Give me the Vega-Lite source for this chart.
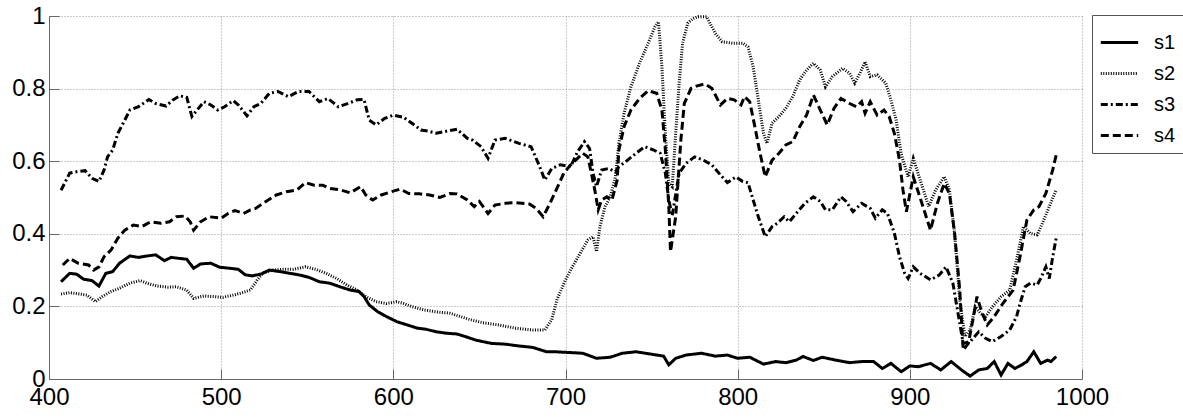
{
"$schema": "https://vega.github.io/schema/vega-lite/v6.json",
"width": 1033, "height": 363,
"autosize": {"type": "none"},
"padding": {"left": 49, "top": 16, "right": 101, "bottom": 39},
"background": "white",
"config": {"view": {"stroke": null}, "font": "Liberation Sans"},
"data": {"values": [
{"x":407,"y":0.268,"s":"s1"},{"x":412,"y":0.291,"s":"s1"},{"x":416,"y":0.289,"s":"s1"},{"x":420,"y":0.275,"s":"s1"},{"x":425,"y":0.271,"s":"s1"},{"x":429,"y":0.256,"s":"s1"},{"x":433,"y":0.291,"s":"s1"},{"x":437,"y":0.296,"s":"s1"},{"x":441,"y":0.319,"s":"s1"},{"x":447,"y":0.339,"s":"s1"},{"x":452,"y":0.335,"s":"s1"},{"x":457,"y":0.339,"s":"s1"},{"x":462,"y":0.342,"s":"s1"},{"x":467,"y":0.326,"s":"s1"},{"x":471,"y":0.335,"s":"s1"},{"x":476,"y":0.332,"s":"s1"},{"x":480,"y":0.330,"s":"s1"},{"x":484,"y":0.305,"s":"s1"},{"x":488,"y":0.317,"s":"s1"},{"x":494,"y":0.319,"s":"s1"},{"x":499,"y":0.308,"s":"s1"},{"x":505,"y":0.305,"s":"s1"},{"x":510,"y":0.302,"s":"s1"},{"x":514,"y":0.287,"s":"s1"},{"x":518,"y":0.284,"s":"s1"},{"x":523,"y":0.289,"s":"s1"},{"x":528,"y":0.300,"s":"s1"},{"x":534,"y":0.296,"s":"s1"},{"x":540,"y":0.291,"s":"s1"},{"x":545,"y":0.287,"s":"s1"},{"x":551,"y":0.280,"s":"s1"},{"x":557,"y":0.268,"s":"s1"},{"x":563,"y":0.264,"s":"s1"},{"x":569,"y":0.254,"s":"s1"},{"x":575,"y":0.245,"s":"s1"},{"x":580,"y":0.241,"s":"s1"},{"x":583,"y":0.227,"s":"s1"},{"x":586,"y":0.204,"s":"s1"},{"x":591,"y":0.185,"s":"s1"},{"x":596,"y":0.172,"s":"s1"},{"x":602,"y":0.158,"s":"s1"},{"x":608,"y":0.149,"s":"s1"},{"x":614,"y":0.140,"s":"s1"},{"x":619,"y":0.137,"s":"s1"},{"x":625,"y":0.130,"s":"s1"},{"x":631,"y":0.126,"s":"s1"},{"x":637,"y":0.124,"s":"s1"},{"x":643,"y":0.115,"s":"s1"},{"x":648,"y":0.107,"s":"s1"},{"x":652,"y":0.103,"s":"s1"},{"x":657,"y":0.098,"s":"s1"},{"x":665,"y":0.096,"s":"s1"},{"x":673,"y":0.091,"s":"s1"},{"x":681,"y":0.087,"s":"s1"},{"x":689,"y":0.075,"s":"s1"},{"x":694,"y":0.075,"s":"s1"},{"x":702,"y":0.073,"s":"s1"},{"x":710,"y":0.071,"s":"s1"},{"x":718,"y":0.057,"s":"s1"},{"x":726,"y":0.060,"s":"s1"},{"x":733,"y":0.071,"s":"s1"},{"x":741,"y":0.075,"s":"s1"},{"x":749,"y":0.069,"s":"s1"},{"x":757,"y":0.063,"s":"s1"},{"x":760,"y":0.039,"s":"s1"},{"x":764,"y":0.057,"s":"s1"},{"x":770,"y":0.066,"s":"s1"},{"x":779,"y":0.071,"s":"s1"},{"x":787,"y":0.063,"s":"s1"},{"x":794,"y":0.066,"s":"s1"},{"x":800,"y":0.057,"s":"s1"},{"x":807,"y":0.060,"s":"s1"},{"x":815,"y":0.041,"s":"s1"},{"x":822,"y":0.048,"s":"s1"},{"x":828,"y":0.045,"s":"s1"},{"x":834,"y":0.052,"s":"s1"},{"x":838,"y":0.062,"s":"s1"},{"x":844,"y":0.051,"s":"s1"},{"x":849,"y":0.060,"s":"s1"},{"x":857,"y":0.052,"s":"s1"},{"x":865,"y":0.045,"s":"s1"},{"x":872,"y":0.048,"s":"s1"},{"x":879,"y":0.048,"s":"s1"},{"x":884,"y":0.029,"s":"s1"},{"x":889,"y":0.043,"s":"s1"},{"x":895,"y":0.020,"s":"s1"},{"x":900,"y":0.036,"s":"s1"},{"x":905,"y":0.034,"s":"s1"},{"x":912,"y":0.043,"s":"s1"},{"x":918,"y":0.025,"s":"s1"},{"x":924,"y":0.048,"s":"s1"},{"x":930,"y":0.025,"s":"s1"},{"x":935,"y":0.008,"s":"s1"},{"x":940,"y":0.025,"s":"s1"},{"x":945,"y":0.029,"s":"s1"},{"x":949,"y":0.048,"s":"s1"},{"x":953,"y":0.011,"s":"s1"},{"x":957,"y":0.043,"s":"s1"},{"x":961,"y":0.029,"s":"s1"},{"x":965,"y":0.039,"s":"s1"},{"x":968,"y":0.048,"s":"s1"},{"x":972,"y":0.075,"s":"s1"},{"x":976,"y":0.043,"s":"s1"},{"x":980,"y":0.052,"s":"s1"},{"x":982,"y":0.048,"s":"s1"},{"x":985,"y":0.062,"s":"s1"},
{"x":407,"y":0.234,"s":"s2"},{"x":412,"y":0.238,"s":"s2"},{"x":418,"y":0.234,"s":"s2"},{"x":422,"y":0.231,"s":"s2"},{"x":427,"y":0.213,"s":"s2"},{"x":431,"y":0.227,"s":"s2"},{"x":436,"y":0.241,"s":"s2"},{"x":441,"y":0.250,"s":"s2"},{"x":447,"y":0.264,"s":"s2"},{"x":453,"y":0.271,"s":"s2"},{"x":458,"y":0.262,"s":"s2"},{"x":463,"y":0.256,"s":"s2"},{"x":469,"y":0.253,"s":"s2"},{"x":474,"y":0.254,"s":"s2"},{"x":480,"y":0.245,"s":"s2"},{"x":484,"y":0.222,"s":"s2"},{"x":490,"y":0.229,"s":"s2"},{"x":496,"y":0.227,"s":"s2"},{"x":501,"y":0.225,"s":"s2"},{"x":507,"y":0.231,"s":"s2"},{"x":511,"y":0.236,"s":"s2"},{"x":517,"y":0.245,"s":"s2"},{"x":521,"y":0.273,"s":"s2"},{"x":524,"y":0.291,"s":"s2"},{"x":530,"y":0.300,"s":"s2"},{"x":536,"y":0.302,"s":"s2"},{"x":542,"y":0.302,"s":"s2"},{"x":549,"y":0.309,"s":"s2"},{"x":555,"y":0.302,"s":"s2"},{"x":561,"y":0.291,"s":"s2"},{"x":567,"y":0.277,"s":"s2"},{"x":573,"y":0.259,"s":"s2"},{"x":579,"y":0.245,"s":"s2"},{"x":584,"y":0.227,"s":"s2"},{"x":590,"y":0.213,"s":"s2"},{"x":596,"y":0.208,"s":"s2"},{"x":602,"y":0.213,"s":"s2"},{"x":606,"y":0.208,"s":"s2"},{"x":611,"y":0.199,"s":"s2"},{"x":618,"y":0.190,"s":"s2"},{"x":625,"y":0.185,"s":"s2"},{"x":633,"y":0.181,"s":"s2"},{"x":639,"y":0.172,"s":"s2"},{"x":645,"y":0.163,"s":"s2"},{"x":652,"y":0.155,"s":"s2"},{"x":661,"y":0.149,"s":"s2"},{"x":671,"y":0.140,"s":"s2"},{"x":681,"y":0.135,"s":"s2"},{"x":688,"y":0.135,"s":"s2"},{"x":692,"y":0.163,"s":"s2"},{"x":695,"y":0.218,"s":"s2"},{"x":700,"y":0.273,"s":"s2"},{"x":704,"y":0.309,"s":"s2"},{"x":708,"y":0.342,"s":"s2"},{"x":713,"y":0.383,"s":"s2"},{"x":716,"y":0.392,"s":"s2"},{"x":718,"y":0.351,"s":"s2"},{"x":720,"y":0.420,"s":"s2"},{"x":723,"y":0.475,"s":"s2"},{"x":726,"y":0.502,"s":"s2"},{"x":729,"y":0.557,"s":"s2"},{"x":731,"y":0.649,"s":"s2"},{"x":734,"y":0.732,"s":"s2"},{"x":738,"y":0.805,"s":"s2"},{"x":743,"y":0.870,"s":"s2"},{"x":748,"y":0.925,"s":"s2"},{"x":752,"y":0.971,"s":"s2"},{"x":754,"y":0.984,"s":"s2"},{"x":756,"y":0.860,"s":"s2"},{"x":758,"y":0.676,"s":"s2"},{"x":760,"y":0.539,"s":"s2"},{"x":762,"y":0.530,"s":"s2"},{"x":764,"y":0.676,"s":"s2"},{"x":766,"y":0.814,"s":"s2"},{"x":768,"y":0.925,"s":"s2"},{"x":771,"y":0.980,"s":"s2"},{"x":774,"y":0.993,"s":"s2"},{"x":777,"y":0.998,"s":"s2"},{"x":782,"y":0.998,"s":"s2"},{"x":787,"y":0.952,"s":"s2"},{"x":791,"y":0.929,"s":"s2"},{"x":797,"y":0.925,"s":"s2"},{"x":803,"y":0.925,"s":"s2"},{"x":806,"y":0.915,"s":"s2"},{"x":809,"y":0.860,"s":"s2"},{"x":812,"y":0.769,"s":"s2"},{"x":815,"y":0.677,"s":"s2"},{"x":817,"y":0.649,"s":"s2"},{"x":820,"y":0.705,"s":"s2"},{"x":824,"y":0.723,"s":"s2"},{"x":828,"y":0.746,"s":"s2"},{"x":832,"y":0.778,"s":"s2"},{"x":836,"y":0.824,"s":"s2"},{"x":840,"y":0.851,"s":"s2"},{"x":844,"y":0.870,"s":"s2"},{"x":848,"y":0.851,"s":"s2"},{"x":851,"y":0.805,"s":"s2"},{"x":855,"y":0.833,"s":"s2"},{"x":861,"y":0.856,"s":"s2"},{"x":865,"y":0.842,"s":"s2"},{"x":868,"y":0.815,"s":"s2"},{"x":871,"y":0.842,"s":"s2"},{"x":874,"y":0.874,"s":"s2"},{"x":877,"y":0.833,"s":"s2"},{"x":881,"y":0.838,"s":"s2"},{"x":886,"y":0.815,"s":"s2"},{"x":889,"y":0.769,"s":"s2"},{"x":892,"y":0.714,"s":"s2"},{"x":895,"y":0.620,"s":"s2"},{"x":899,"y":0.557,"s":"s2"},{"x":902,"y":0.608,"s":"s2"},{"x":906,"y":0.548,"s":"s2"},{"x":911,"y":0.475,"s":"s2"},{"x":915,"y":0.521,"s":"s2"},{"x":920,"y":0.557,"s":"s2"},{"x":923,"y":0.521,"s":"s2"},{"x":926,"y":0.401,"s":"s2"},{"x":929,"y":0.218,"s":"s2"},{"x":932,"y":0.117,"s":"s2"},{"x":935,"y":0.135,"s":"s2"},{"x":938,"y":0.199,"s":"s2"},{"x":941,"y":0.181,"s":"s2"},{"x":944,"y":0.172,"s":"s2"},{"x":948,"y":0.199,"s":"s2"},{"x":953,"y":0.227,"s":"s2"},{"x":958,"y":0.245,"s":"s2"},{"x":962,"y":0.328,"s":"s2"},{"x":966,"y":0.420,"s":"s2"},{"x":970,"y":0.401,"s":"s2"},{"x":974,"y":0.397,"s":"s2"},{"x":977,"y":0.429,"s":"s2"},{"x":981,"y":0.475,"s":"s2"},{"x":985,"y":0.521,"s":"s2"},
{"x":407,"y":0.520,"s":"s3"},{"x":412,"y":0.567,"s":"s3"},{"x":416,"y":0.571,"s":"s3"},{"x":421,"y":0.574,"s":"s3"},{"x":425,"y":0.553,"s":"s3"},{"x":429,"y":0.544,"s":"s3"},{"x":432,"y":0.576,"s":"s3"},{"x":434,"y":0.612,"s":"s3"},{"x":437,"y":0.631,"s":"s3"},{"x":440,"y":0.677,"s":"s3"},{"x":444,"y":0.713,"s":"s3"},{"x":447,"y":0.741,"s":"s3"},{"x":452,"y":0.750,"s":"s3"},{"x":458,"y":0.770,"s":"s3"},{"x":462,"y":0.759,"s":"s3"},{"x":468,"y":0.752,"s":"s3"},{"x":472,"y":0.769,"s":"s3"},{"x":476,"y":0.780,"s":"s3"},{"x":480,"y":0.776,"s":"s3"},{"x":483,"y":0.723,"s":"s3"},{"x":486,"y":0.741,"s":"s3"},{"x":490,"y":0.764,"s":"s3"},{"x":494,"y":0.755,"s":"s3"},{"x":498,"y":0.741,"s":"s3"},{"x":502,"y":0.750,"s":"s3"},{"x":507,"y":0.767,"s":"s3"},{"x":510,"y":0.755,"s":"s3"},{"x":515,"y":0.725,"s":"s3"},{"x":519,"y":0.750,"s":"s3"},{"x":523,"y":0.759,"s":"s3"},{"x":528,"y":0.787,"s":"s3"},{"x":533,"y":0.792,"s":"s3"},{"x":539,"y":0.778,"s":"s3"},{"x":545,"y":0.792,"s":"s3"},{"x":551,"y":0.792,"s":"s3"},{"x":557,"y":0.764,"s":"s3"},{"x":562,"y":0.773,"s":"s3"},{"x":568,"y":0.750,"s":"s3"},{"x":573,"y":0.758,"s":"s3"},{"x":579,"y":0.769,"s":"s3"},{"x":583,"y":0.770,"s":"s3"},{"x":586,"y":0.713,"s":"s3"},{"x":590,"y":0.700,"s":"s3"},{"x":595,"y":0.718,"s":"s3"},{"x":600,"y":0.727,"s":"s3"},{"x":606,"y":0.721,"s":"s3"},{"x":611,"y":0.704,"s":"s3"},{"x":616,"y":0.686,"s":"s3"},{"x":619,"y":0.684,"s":"s3"},{"x":625,"y":0.677,"s":"s3"},{"x":629,"y":0.681,"s":"s3"},{"x":637,"y":0.688,"s":"s3"},{"x":643,"y":0.663,"s":"s3"},{"x":646,"y":0.658,"s":"s3"},{"x":651,"y":0.640,"s":"s3"},{"x":655,"y":0.608,"s":"s3"},{"x":659,"y":0.658,"s":"s3"},{"x":665,"y":0.663,"s":"s3"},{"x":673,"y":0.649,"s":"s3"},{"x":680,"y":0.640,"s":"s3"},{"x":685,"y":0.585,"s":"s3"},{"x":688,"y":0.548,"s":"s3"},{"x":692,"y":0.580,"s":"s3"},{"x":697,"y":0.590,"s":"s3"},{"x":703,"y":0.585,"s":"s3"},{"x":707,"y":0.626,"s":"s3"},{"x":711,"y":0.654,"s":"s3"},{"x":714,"y":0.635,"s":"s3"},{"x":716,"y":0.567,"s":"s3"},{"x":718,"y":0.530,"s":"s3"},{"x":721,"y":0.576,"s":"s3"},{"x":725,"y":0.580,"s":"s3"},{"x":729,"y":0.571,"s":"s3"},{"x":731,"y":0.585,"s":"s3"},{"x":735,"y":0.599,"s":"s3"},{"x":741,"y":0.622,"s":"s3"},{"x":746,"y":0.640,"s":"s3"},{"x":751,"y":0.631,"s":"s3"},{"x":755,"y":0.622,"s":"s3"},{"x":758,"y":0.567,"s":"s3"},{"x":760,"y":0.493,"s":"s3"},{"x":762,"y":0.450,"s":"s3"},{"x":766,"y":0.567,"s":"s3"},{"x":770,"y":0.594,"s":"s3"},{"x":775,"y":0.612,"s":"s3"},{"x":780,"y":0.603,"s":"s3"},{"x":785,"y":0.590,"s":"s3"},{"x":790,"y":0.562,"s":"s3"},{"x":794,"y":0.541,"s":"s3"},{"x":799,"y":0.557,"s":"s3"},{"x":803,"y":0.544,"s":"s3"},{"x":806,"y":0.541,"s":"s3"},{"x":809,"y":0.493,"s":"s3"},{"x":812,"y":0.447,"s":"s3"},{"x":816,"y":0.392,"s":"s3"},{"x":820,"y":0.420,"s":"s3"},{"x":823,"y":0.429,"s":"s3"},{"x":827,"y":0.447,"s":"s3"},{"x":830,"y":0.433,"s":"s3"},{"x":834,"y":0.456,"s":"s3"},{"x":839,"y":0.484,"s":"s3"},{"x":844,"y":0.502,"s":"s3"},{"x":848,"y":0.489,"s":"s3"},{"x":851,"y":0.466,"s":"s3"},{"x":855,"y":0.466,"s":"s3"},{"x":860,"y":0.502,"s":"s3"},{"x":863,"y":0.489,"s":"s3"},{"x":867,"y":0.461,"s":"s3"},{"x":872,"y":0.484,"s":"s3"},{"x":877,"y":0.470,"s":"s3"},{"x":880,"y":0.443,"s":"s3"},{"x":884,"y":0.466,"s":"s3"},{"x":887,"y":0.456,"s":"s3"},{"x":891,"y":0.402,"s":"s3"},{"x":894,"y":0.337,"s":"s3"},{"x":897,"y":0.291,"s":"s3"},{"x":899,"y":0.277,"s":"s3"},{"x":902,"y":0.309,"s":"s3"},{"x":906,"y":0.291,"s":"s3"},{"x":912,"y":0.273,"s":"s3"},{"x":917,"y":0.286,"s":"s3"},{"x":921,"y":0.309,"s":"s3"},{"x":925,"y":0.264,"s":"s3"},{"x":928,"y":0.181,"s":"s3"},{"x":931,"y":0.098,"s":"s3"},{"x":935,"y":0.103,"s":"s3"},{"x":940,"y":0.130,"s":"s3"},{"x":944,"y":0.112,"s":"s3"},{"x":948,"y":0.103,"s":"s3"},{"x":953,"y":0.117,"s":"s3"},{"x":958,"y":0.135,"s":"s3"},{"x":962,"y":0.172,"s":"s3"},{"x":964,"y":0.208,"s":"s3"},{"x":967,"y":0.254,"s":"s3"},{"x":970,"y":0.264,"s":"s3"},{"x":974,"y":0.259,"s":"s3"},{"x":976,"y":0.277,"s":"s3"},{"x":979,"y":0.309,"s":"s3"},{"x":981,"y":0.277,"s":"s3"},{"x":983,"y":0.337,"s":"s3"},{"x":985,"y":0.388,"s":"s3"},
{"x":408,"y":0.314,"s":"s4"},{"x":412,"y":0.332,"s":"s4"},{"x":417,"y":0.319,"s":"s4"},{"x":423,"y":0.314,"s":"s4"},{"x":426,"y":0.300,"s":"s4"},{"x":429,"y":0.309,"s":"s4"},{"x":432,"y":0.337,"s":"s4"},{"x":436,"y":0.355,"s":"s4"},{"x":440,"y":0.388,"s":"s4"},{"x":444,"y":0.410,"s":"s4"},{"x":449,"y":0.424,"s":"s4"},{"x":454,"y":0.420,"s":"s4"},{"x":459,"y":0.433,"s":"s4"},{"x":465,"y":0.429,"s":"s4"},{"x":470,"y":0.433,"s":"s4"},{"x":474,"y":0.447,"s":"s4"},{"x":479,"y":0.449,"s":"s4"},{"x":482,"y":0.433,"s":"s4"},{"x":484,"y":0.410,"s":"s4"},{"x":488,"y":0.433,"s":"s4"},{"x":493,"y":0.447,"s":"s4"},{"x":500,"y":0.443,"s":"s4"},{"x":504,"y":0.456,"s":"s4"},{"x":508,"y":0.464,"s":"s4"},{"x":513,"y":0.456,"s":"s4"},{"x":517,"y":0.466,"s":"s4"},{"x":520,"y":0.470,"s":"s4"},{"x":526,"y":0.489,"s":"s4"},{"x":532,"y":0.507,"s":"s4"},{"x":538,"y":0.516,"s":"s4"},{"x":544,"y":0.521,"s":"s4"},{"x":549,"y":0.541,"s":"s4"},{"x":554,"y":0.534,"s":"s4"},{"x":559,"y":0.534,"s":"s4"},{"x":563,"y":0.525,"s":"s4"},{"x":569,"y":0.521,"s":"s4"},{"x":575,"y":0.513,"s":"s4"},{"x":581,"y":0.530,"s":"s4"},{"x":584,"y":0.507,"s":"s4"},{"x":588,"y":0.493,"s":"s4"},{"x":593,"y":0.507,"s":"s4"},{"x":599,"y":0.516,"s":"s4"},{"x":604,"y":0.523,"s":"s4"},{"x":609,"y":0.511,"s":"s4"},{"x":615,"y":0.510,"s":"s4"},{"x":621,"y":0.507,"s":"s4"},{"x":627,"y":0.500,"s":"s4"},{"x":633,"y":0.511,"s":"s4"},{"x":637,"y":0.510,"s":"s4"},{"x":643,"y":0.493,"s":"s4"},{"x":647,"y":0.475,"s":"s4"},{"x":650,"y":0.489,"s":"s4"},{"x":655,"y":0.456,"s":"s4"},{"x":659,"y":0.479,"s":"s4"},{"x":665,"y":0.484,"s":"s4"},{"x":671,"y":0.486,"s":"s4"},{"x":679,"y":0.482,"s":"s4"},{"x":683,"y":0.470,"s":"s4"},{"x":687,"y":0.447,"s":"s4"},{"x":691,"y":0.484,"s":"s4"},{"x":695,"y":0.525,"s":"s4"},{"x":699,"y":0.567,"s":"s4"},{"x":703,"y":0.590,"s":"s4"},{"x":707,"y":0.608,"s":"s4"},{"x":710,"y":0.622,"s":"s4"},{"x":713,"y":0.612,"s":"s4"},{"x":715,"y":0.567,"s":"s4"},{"x":717,"y":0.521,"s":"s4"},{"x":719,"y":0.466,"s":"s4"},{"x":721,"y":0.493,"s":"s4"},{"x":724,"y":0.502,"s":"s4"},{"x":727,"y":0.493,"s":"s4"},{"x":730,"y":0.548,"s":"s4"},{"x":731,"y":0.631,"s":"s4"},{"x":734,"y":0.695,"s":"s4"},{"x":738,"y":0.741,"s":"s4"},{"x":743,"y":0.773,"s":"s4"},{"x":748,"y":0.794,"s":"s4"},{"x":753,"y":0.787,"s":"s4"},{"x":756,"y":0.741,"s":"s4"},{"x":758,"y":0.631,"s":"s4"},{"x":760,"y":0.475,"s":"s4"},{"x":761,"y":0.351,"s":"s4"},{"x":764,"y":0.447,"s":"s4"},{"x":767,"y":0.658,"s":"s4"},{"x":769,"y":0.759,"s":"s4"},{"x":773,"y":0.801,"s":"s4"},{"x":776,"y":0.807,"s":"s4"},{"x":781,"y":0.813,"s":"s4"},{"x":785,"y":0.801,"s":"s4"},{"x":790,"y":0.755,"s":"s4"},{"x":794,"y":0.773,"s":"s4"},{"x":798,"y":0.769,"s":"s4"},{"x":802,"y":0.755,"s":"s4"},{"x":804,"y":0.778,"s":"s4"},{"x":807,"y":0.764,"s":"s4"},{"x":810,"y":0.695,"s":"s4"},{"x":813,"y":0.622,"s":"s4"},{"x":816,"y":0.557,"s":"s4"},{"x":820,"y":0.603,"s":"s4"},{"x":824,"y":0.622,"s":"s4"},{"x":828,"y":0.645,"s":"s4"},{"x":832,"y":0.654,"s":"s4"},{"x":836,"y":0.695,"s":"s4"},{"x":840,"y":0.727,"s":"s4"},{"x":844,"y":0.782,"s":"s4"},{"x":848,"y":0.741,"s":"s4"},{"x":852,"y":0.700,"s":"s4"},{"x":856,"y":0.746,"s":"s4"},{"x":860,"y":0.773,"s":"s4"},{"x":865,"y":0.759,"s":"s4"},{"x":869,"y":0.750,"s":"s4"},{"x":872,"y":0.764,"s":"s4"},{"x":874,"y":0.732,"s":"s4"},{"x":877,"y":0.764,"s":"s4"},{"x":881,"y":0.727,"s":"s4"},{"x":885,"y":0.741,"s":"s4"},{"x":888,"y":0.723,"s":"s4"},{"x":891,"y":0.677,"s":"s4"},{"x":894,"y":0.603,"s":"s4"},{"x":896,"y":0.521,"s":"s4"},{"x":898,"y":0.461,"s":"s4"},{"x":902,"y":0.557,"s":"s4"},{"x":907,"y":0.484,"s":"s4"},{"x":912,"y":0.410,"s":"s4"},{"x":916,"y":0.484,"s":"s4"},{"x":920,"y":0.539,"s":"s4"},{"x":923,"y":0.511,"s":"s4"},{"x":926,"y":0.401,"s":"s4"},{"x":929,"y":0.245,"s":"s4"},{"x":931,"y":0.080,"s":"s4"},{"x":934,"y":0.098,"s":"s4"},{"x":937,"y":0.172,"s":"s4"},{"x":939,"y":0.227,"s":"s4"},{"x":942,"y":0.181,"s":"s4"},{"x":945,"y":0.149,"s":"s4"},{"x":949,"y":0.172,"s":"s4"},{"x":954,"y":0.208,"s":"s4"},{"x":960,"y":0.245,"s":"s4"},{"x":964,"y":0.337,"s":"s4"},{"x":968,"y":0.438,"s":"s4"},{"x":972,"y":0.466,"s":"s4"},{"x":975,"y":0.475,"s":"s4"},{"x":979,"y":0.511,"s":"s4"},{"x":983,"y":0.576,"s":"s4"},{"x":985,"y":0.617,"s":"s4"}
]},
"mark": {"type": "line", "color": "black", "strokeWidth": 3},
"encoding": {
  "x": {"field": "x", "type": "quantitative",
    "scale": {"domain": [400, 1000], "nice": false, "zero": false},
    "axis": {"values": [400, 500, 600, 700, 800, 900, 1000], "format": "d", "title": null, "grid": true, "gridColor": "#999", "gridDash": [1, 2], "domainColor": "#666", "tickColor": "#666", "tickSize": -10, "labelPadding": 16, "labelFontSize": 24, "labelColor": "black", "labelFlush": false, "labelOverlap": false}},
  "y": {"field": "y", "type": "quantitative",
    "scale": {"domain": [0, 1], "nice": false},
    "axis": {"values": [0, 0.2, 0.4, 0.6, 0.8, 1], "format": "~g", "title": null, "grid": true, "gridColor": "#999", "gridDash": [1, 2], "domainColor": "#666", "tickColor": "#666", "tickSize": -10, "labelPadding": 14, "labelFontSize": 24, "labelColor": "black", "labelFlush": false, "labelOverlap": false}},
  "strokeDash": {"field": "s", "type": "nominal",
    "scale": {"domain": ["s1", "s2", "s3", "s4"], "range": [[1, 0], [1, 1.5], [7, 3, 2, 3], [8, 4]]},
    "legend": {"title": null, "orient": "none", "legendX": 1043, "legendY": -1, "symbolType": "stroke", "symbolSize": 1400, "symbolStrokeWidth": 3, "symbolStrokeColor": "black", "labelFontSize": 20, "labelOffset": 14, "labelColor": "black", "padding": 7, "rowPadding": 0, "strokeColor": "#555", "fillColor": "white"}}
}
}
